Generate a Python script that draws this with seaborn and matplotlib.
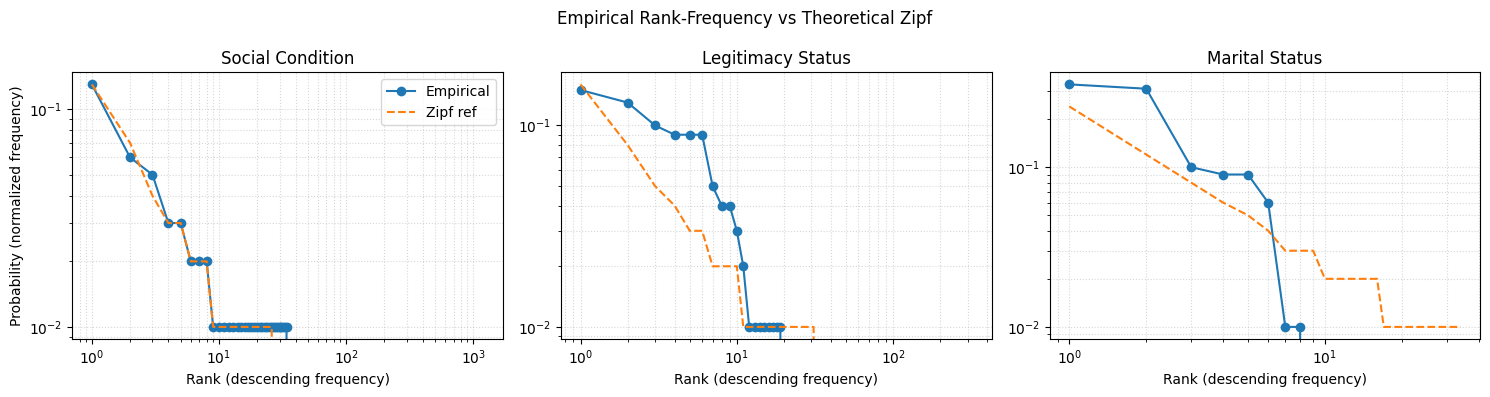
import matplotlib
matplotlib.use("Agg")
import matplotlib.pyplot as plt
import seaborn as sns
import pandas as pd

# ---- data (probabilities rounded to 2 decimals; categories beyond listed values are 0) ----
titles = ["Social Condition", "Legitimacy Status", "Marital Status"]
n_categories = [1200, 320, 34]

emp_social = [0.13, 0.06, 0.05, 0.03, 0.03, 0.02, 0.02, 0.02] + [0.01] * 26
zipf_social = [0.13, 0.07, 0.04, 0.03, 0.03, 0.02, 0.02, 0.02] + [0.01] * 18

emp_legit = [0.15, 0.13, 0.10, 0.09, 0.09, 0.09, 0.05, 0.04, 0.04, 0.03, 0.02] + [0.01] * 8
zipf_legit = [0.16, 0.08, 0.05, 0.04, 0.03, 0.03, 0.02, 0.02, 0.02, 0.02] + [0.01] * 21

emp_marital = [0.33, 0.31, 0.10, 0.09, 0.09, 0.06, 0.01, 0.01]
zipf_marital = [0.24, 0.12, 0.08, 0.06, 0.05, 0.04, 0.03, 0.03, 0.03,
                0.02, 0.02, 0.02, 0.02, 0.02, 0.02, 0.02] + [0.01] * 18

empirical = [emp_social, emp_legit, emp_marital]
zipf = [zipf_social, zipf_legit, zipf_marital]


def pad(vals, n):
    return list(vals) + [0.0] * (n - len(vals))


fig, axes = plt.subplots(1, 3, figsize=(14.9, 3.97), dpi=100)
fig.subplots_adjust(left=0.0485, right=0.9935, top=0.818, bottom=0.146, wspace=0.135)

for i, ax in enumerate(axes):
    n = n_categories[i]
    df = pd.DataFrame({
        "rank": list(range(1, n + 1)),
        "Empirical": pad(empirical[i], n),
        "Zipf ref": pad(zipf[i], n),
    })
    sns.lineplot(data=df, x="rank", y="Empirical", ax=ax, marker="o", markersize=7,
                 markeredgewidth=0, color="#1f77b4", label="Empirical",
                 estimator=None, errorbar=None, sort=False)
    sns.lineplot(data=df, x="rank", y="Zipf ref", ax=ax, color="#ff7f0e", linestyle="--",
                 label="Zipf ref", estimator=None, errorbar=None, sort=False)
    ax.set_xscale("log")
    ax.set_yscale("log")
    ax.relim()
    ax.autoscale_view()
    ax.set_title(titles[i], fontsize=12)
    ax.set_xlabel("Rank (descending frequency)")
    if i == 0:
        ax.set_ylabel("Probability (normalized frequency)")
        ax.legend(loc="upper right")
    else:
        ax.set_ylabel("")
        leg = ax.get_legend()
        if leg is not None:
            leg.remove()
    ax.grid(True, which="both", linestyle=":", linewidth=0.8, alpha=0.5)

fig.suptitle("Empirical Rank-Frequency vs Theoretical Zipf", fontsize=12, y=0.975)
fig.savefig("out.png", dpi=100)
